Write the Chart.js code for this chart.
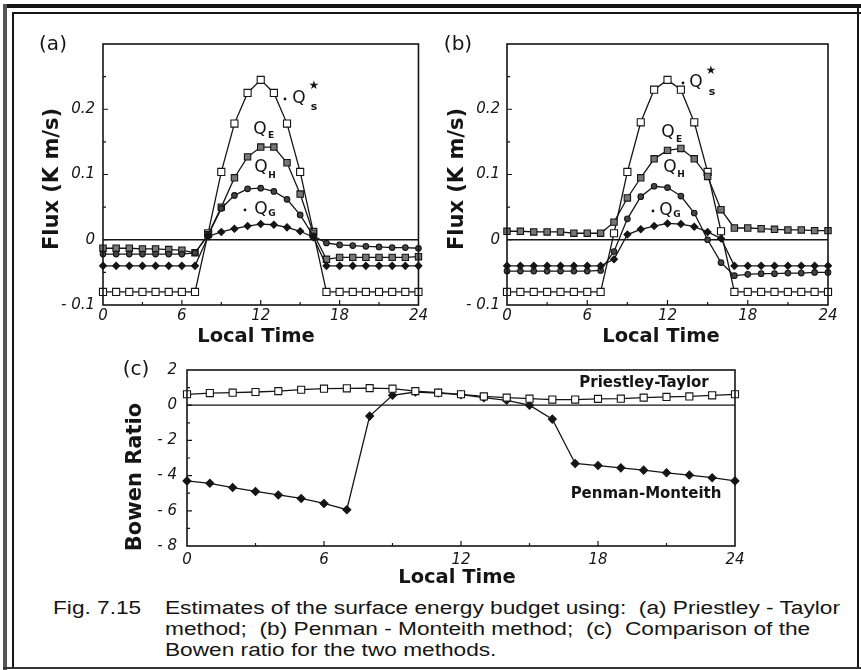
<!DOCTYPE html>
<html>
<head>
<meta charset="utf-8">
<script src="https://cdn.jsdelivr.net/npm/chart.js@4/dist/chart.umd.min.js"></script>
<style>
  body { margin: 0; background: #fff; width: 861px; height: 670px; position: relative; overflow: hidden; }
  canvas { position: absolute; }
  .rule { position: absolute; background: #151515; }
  .cap { position: absolute; font: 18px "Liberation Sans", Arial, sans-serif; line-height: 18px; color: #151515;
         white-space: pre; transform-origin: left center; }
</style>
</head>
<body>
<div class="rule" style="left:3px;top:4px;width:858px;height:4px"></div>
<div class="rule" style="left:13px;top:12px;width:848px;height:1.5px"></div>
<div class="rule" style="left:3px;top:4px;width:4px;height:666px;background:#555"></div>
<div class="rule" style="left:12px;top:12px;width:1.5px;height:656px"></div>
<div class="rule" style="left:857px;top:8px;width:1.5px;height:660px"></div>
<div class="rule" style="left:3px;top:667px;width:858px;height:2px;background:#333"></div>

<canvas id="chartA" width="430" height="350" style="left:0;top:0"></canvas>
<canvas id="chartB" width="431" height="350" style="left:430px;top:0"></canvas>
<canvas id="chartC" width="861" height="240" style="left:0;top:350px"></canvas>

<div class="cap capline" style="left:53px;top:599px">Fig. 7.15</div>
<div class="cap capline" style="left:165px;top:599px">Estimates of the surface energy budget using:  (a) Priestley - Taylor</div>
<div class="cap capline" style="left:165px;top:620px">method;  (b) Penman - Monteith method;  (c)  Comparison of the</div>
<div class="cap capline" style="left:165px;top:641px">Bowen ratio for the two methods.</div>

<script>
const hours = [0, 1, 2, 3, 4, 5, 6, 7, 8, 9, 10, 11, 12, 13, 14, 15, 16, 17, 18, 19, 20, 21, 22, 23, 24];

// (a) Priestley - Taylor, fluxes in K m/s
const aNegQs = [-0.08, -0.08, -0.08, -0.08, -0.08, -0.08, -0.08, -0.08, 0.01, 0.104, 0.178, 0.225, 0.245,
  0.225, 0.178, 0.104, 0.012, -0.08, -0.08, -0.08, -0.08, -0.08, -0.08, -0.08, -0.08];
const aQe = [-0.013, -0.013, -0.013, -0.014, -0.014, -0.015, -0.016, -0.02, 0.008, 0.05, 0.095, 0.127, 0.142,
  0.142, 0.118, 0.07, 0.01, -0.03, -0.027, -0.027, -0.027, -0.027, -0.027, -0.027, -0.026];
const aQh = [-0.022, -0.022, -0.022, -0.022, -0.022, -0.022, -0.022, -0.02, 0.007, 0.048, 0.068, 0.078, 0.079,
  0.074, 0.062, 0.038, 0.006, -0.005, -0.008, -0.009, -0.01, -0.011, -0.012, -0.012, -0.013];
const aNegQg = [-0.04, -0.04, -0.04, -0.04, -0.04, -0.04, -0.04, -0.04, 0.005, 0.012, 0.017, 0.021, 0.024,
  0.023, 0.019, 0.013, 0.004, -0.04, -0.04, -0.04, -0.04, -0.04, -0.04, -0.04, -0.04];

// (b) Penman - Monteith
const bNegQs = [-0.08, -0.08, -0.08, -0.08, -0.08, -0.08, -0.08, -0.08, 0.01, 0.104, 0.18, 0.23, 0.245,
  0.23, 0.18, 0.104, 0.013, -0.08, -0.08, -0.08, -0.08, -0.08, -0.08, -0.08, -0.08];
const bQe = [0.013, 0.013, 0.012, 0.012, 0.012, 0.01, 0.01, 0.01, 0.027, 0.064, 0.095, 0.124, 0.137,
  0.14, 0.124, 0.097, 0.046, 0.018, 0.018, 0.017, 0.016, 0.015, 0.015, 0.014, 0.014];
const bQh = [-0.048, -0.048, -0.048, -0.048, -0.048, -0.048, -0.048, -0.047, -0.018, 0.032, 0.066, 0.082, 0.08,
  0.067, 0.041, 0.0, -0.035, -0.055, -0.053, -0.052, -0.052, -0.051, -0.051, -0.05, -0.05];
const bNegQg = [-0.04, -0.04, -0.04, -0.04, -0.04, -0.04, -0.04, -0.04, -0.03, 0.008, 0.016, 0.021, 0.025,
  0.024, 0.02, 0.012, 0.002, -0.04, -0.04, -0.04, -0.04, -0.04, -0.04, -0.04, -0.04];

// (c) Bowen ratio
const bowenPT = [0.62, 0.69, 0.71, 0.75, 0.8, 0.88, 0.94, 0.96, 0.97, 0.94, 0.8, 0.71, 0.62,
  0.5, 0.43, 0.37, 0.32, 0.32, 0.36, 0.37, 0.43, 0.47, 0.5, 0.56, 0.62];
const bowenPM = [-4.3, -4.44, -4.68, -4.9, -5.1, -5.3, -5.58, -5.94, -0.62, 0.56, 0.75, 0.69, 0.6,
  0.43, 0.28, 0.0, -0.79, -3.31, -3.43, -3.56, -3.69, -3.84, -3.97, -4.12, -4.3];

const fluxTicks = [-0.1, 0, 0.1, 0.2];
const bowenTicks = [2, 0, -2, -4, -6, -8];
const timeTicks = [0, 6, 12, 18, 24];

const INK = '#151515';
Chart.defaults.font.family = "'DejaVu Sans', sans-serif";
Chart.defaults.color = INK;

function pts(vals) {
  return vals.map((v, i) => ({ x: hours[i], y: v }));
}

function series(vals, style, radius, fill) {
  return {
    data: pts(vals),
    borderColor: INK,
    borderWidth: 1.3,
    pointStyle: style,
    pointRadius: radius,
    pointBackgroundColor: fill,
    pointBorderColor: INK,
    pointBorderWidth: 1.1,
    clip: false
  };
}

function signed(v) {
  const r = Math.round(v * 100) / 100;
  if (r === 0) return '0';
  return r < 0 ? '- ' + Math.abs(r) : String(r);
}

function drawText(ctx, t) {
  ctx.save();
  ctx.translate(t.x, t.y);
  if (t.rot) ctx.rotate(t.rot);
  ctx.font = t.font;
  ctx.textAlign = 'center';
  ctx.textBaseline = 'middle';
  ctx.fillStyle = INK;
  ctx.fillText(t.t, 0, 0);
  ctx.restore();
}

const decor = {
  id: 'decor',
  beforeDatasetsDraw(chart) {
    const { ctx, chartArea: a, scales: { y } } = chart;
    const y0 = y.getPixelForValue(0);
    ctx.save();
    ctx.strokeStyle = INK;
    ctx.lineWidth = 1.3;
    ctx.beginPath();
    ctx.moveTo(a.left, y0);
    ctx.lineTo(a.right, y0);
    ctx.stroke();
    ctx.restore();
  },
  afterDraw(chart, args, o) {
    const { ctx, chartArea: a, scales: { x, y } } = chart;
    ctx.save();
    ctx.strokeStyle = INK;
    ctx.lineWidth = 1.6;
    ctx.strokeRect(a.left, a.top, a.right - a.left, a.bottom - a.top);

    // inward tick marks
    ctx.lineWidth = 1.2;
    ctx.beginPath();
    for (let h = 3; h < 24; h += 3) {
      const px = x.getPixelForValue(h);
      const len = h % 6 === 0 ? 5 : 3;
      ctx.moveTo(px, a.bottom);
      ctx.lineTo(px, a.bottom - len);
    }
    const n0 = Math.round(y.min / o.yMinor), n1 = Math.round(y.max / o.yMinor);
    for (let n = n0 + 1; n < n1; n++) {
      const py = y.getPixelForValue(n * o.yMinor);
      const len = n % o.majorEvery === 0 ? 5 : 3;
      ctx.moveTo(a.left, py);
      ctx.lineTo(a.left + len, py);
    }
    ctx.stroke();

    for (const d of o.dots || []) {
      ctx.beginPath();
      ctx.arc(d.x, d.y, 1.4, 0, Math.PI * 2);
      ctx.fillStyle = INK;
      ctx.fill();
    }
    for (const t of o.texts) drawText(ctx, t);
    ctx.restore();
  }
};

function makeChart(id, datasets, cfg) {
  return new Chart(document.getElementById(id), {
    type: 'line',
    data: { datasets },
    options: {
      responsive: false,
      animation: false,
      events: [],
      layout: { autoPadding: false, padding: cfg.padding },
      plugins: {
        legend: { display: false },
        tooltip: { enabled: false },
        decor: cfg.decor
      },
      scales: {
        x: {
          type: 'linear', min: 0, max: 24,
          grid: { display: false, drawTicks: false },
          border: { display: false },
          ticks: {
            stepSize: 6, padding: cfg.xPad, maxRotation: 0, autoSkip: false,
            font: { size: 15, style: 'italic' },
            callback: v => timeTicks.includes(v) ? String(v) : null
          },
          afterFit: s => { s.height = cfg.xHeight; }
        },
        y: {
          type: 'linear', min: cfg.yMin, max: cfg.yMax,
          grid: { display: false, drawTicks: false },
          border: { display: false },
          ticks: {
            stepSize: cfg.yStep, padding: cfg.yPad, autoSkip: false,
            font: { size: 15, style: 'italic' },
            callback: v => cfg.yLabels.some(t => Math.abs(t - v) < 1e-6) ? signed(v) : null
          },
          afterFit: s => { s.width = cfg.yWidth; }
        }
      }
    },
    plugins: [decor]
  });
}

const QF = "17px 'DejaVu Sans'";
const SUB = "bold 9px 'DejaVu Sans'";
const STAR = "12px 'DejaVu Sans'";
const AXF = "bold 21px 'DejaVu Sans'";
const TIMEF = "bold 19.5px 'DejaVu Sans'";
const PANF = "20px 'DejaVu Sans'";

makeChart('chartA', [
  series(aNegQg, 'rectRot', 3.5, INK),
  series(aQh, 'circle', 2.8, '#444'),
  series(aQe, 'rect', 4.5, '#777'),
  series(aNegQs, 'rect', 5, '#fff')
], {
  padding: { left: 0, right: 7, top: 44, bottom: 0 },
  yWidth: 103, xHeight: 45, xPad: 2, yPad: 8,
  yMin: -0.1, yMax: 0.3, yStep: 0.1, yLabels: fluxTicks,
  decor: {
    yMinor: 0.05, majorEvery: 2,
    dots: [{ x: 285, y: 99 }, { x: 245, y: 210 }],
    texts: [
      { t: '(a)', x: 53, y: 45, font: PANF },
      { t: 'Flux (K m/s)', x: 53, y: 179, font: AXF, rot: -Math.PI / 2 },
      { t: 'Local Time', x: 256, y: 337, font: TIMEF },
      { t: 'Q', x: 299, y: 99, font: QF }, { t: '\u2605', x: 314, y: 86, font: STAR }, { t: 's', x: 314, y: 107, font: "bold 11px 'DejaVu Sans'" },
      { t: 'Q', x: 260, y: 130, font: QF }, { t: 'E', x: 271, y: 136, font: SUB },
      { t: 'Q', x: 261, y: 168, font: QF }, { t: 'H', x: 272, y: 176, font: SUB },
      { t: 'Q', x: 261, y: 210, font: QF }, { t: 'G', x: 272, y: 214, font: SUB }
    ]
  }
});

makeChart('chartB', [
  series(bNegQg, 'rectRot', 3.5, INK),
  series(bQh, 'circle', 2.8, '#444'),
  series(bQe, 'rect', 4.5, '#777'),
  series(bNegQs, 'rect', 5, '#fff')
], {
  padding: { left: 0, right: 33, top: 44, bottom: 0 },
  yWidth: 77, xHeight: 45, xPad: 2, yPad: 7,
  yMin: -0.1, yMax: 0.3, yStep: 0.1, yLabels: fluxTicks,
  decor: {
    yMinor: 0.05, majorEvery: 2,
    dots: [{ x: 253, y: 83 }, { x: 223, y: 211 }],
    texts: [
      { t: '(b)', x: 28, y: 45, font: PANF },
      { t: 'Flux (K m/s)', x: 28, y: 179, font: AXF, rot: -Math.PI / 2 },
      { t: 'Local Time', x: 231, y: 337, font: TIMEF },
      { t: 'Q', x: 266, y: 83, font: QF }, { t: '\u2605', x: 281, y: 71, font: STAR }, { t: 's', x: 282, y: 92, font: "bold 11px 'DejaVu Sans'" },
      { t: 'Q', x: 238, y: 133, font: QF }, { t: 'E', x: 249, y: 140, font: SUB },
      { t: 'Q', x: 240, y: 168, font: QF }, { t: 'H', x: 251, y: 175, font: SUB },
      { t: 'Q', x: 236, y: 211, font: QF }, { t: 'G', x: 247, y: 215, font: SUB }
    ]
  }
});

makeChart('chartC', [
  series(bowenPT, 'rect', 5, '#fff'),
  series(bowenPM, 'rectRot', 4, INK)
], {
  padding: { left: 0, right: 126, top: 20, bottom: 0 },
  yWidth: 187, xHeight: 44, xPad: 5, yPad: 10,
  yMin: -8, yMax: 2, yStep: 2, yLabels: bowenTicks,
  decor: {
    yMinor: 1, majorEvery: 2,
    texts: [
      { t: '(c)', x: 136, y: 20, font: PANF },
      { t: 'Bowen Ratio', x: 136, y: 127, font: AXF, rot: -Math.PI / 2 },
      { t: 'Local Time', x: 457, y: 228, font: TIMEF },
      { t: 'Priestley-Taylor', x: 644, y: 33, font: "bold 15px 'DejaVu Sans'" },
      { t: 'Penman-Monteith', x: 646, y: 144, font: "bold 15px 'DejaVu Sans'" }
    ]
  }
});

// caption is set in a condensed face in the book, squeeze it to the printed width
const capLines = document.querySelectorAll('.capline');
const squeeze = 675 / capLines[1].getBoundingClientRect().width;
capLines.forEach(el => { el.style.transform = `scaleX(${squeeze})`; });
</script>
</body>
</html>
